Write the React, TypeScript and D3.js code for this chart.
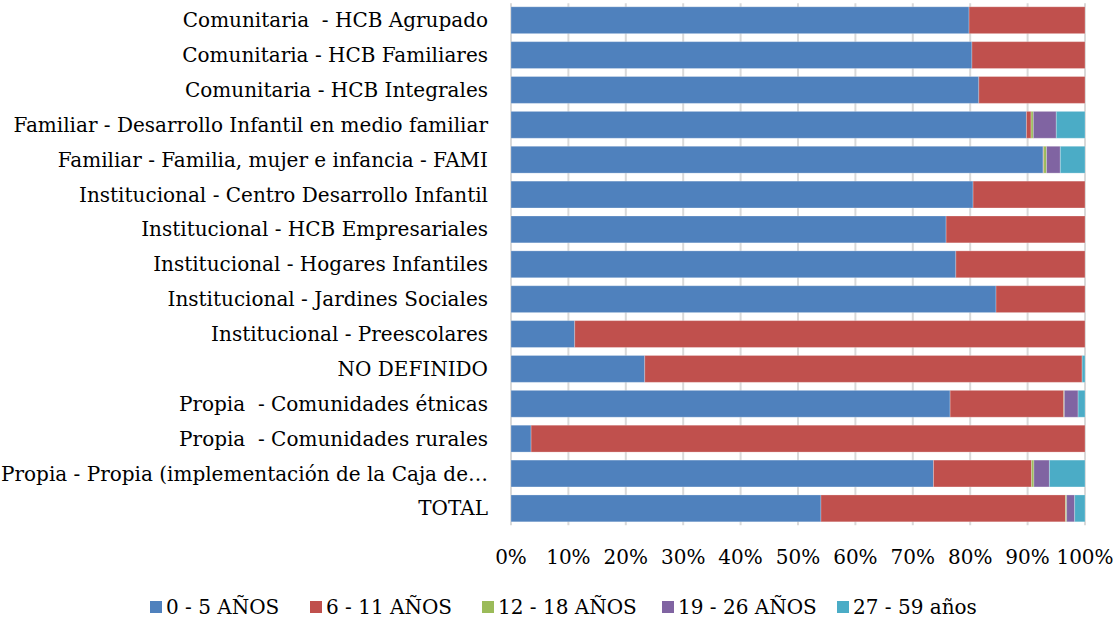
import React, { useEffect, useRef } from 'react';
import * as d3 from 'd3';

const categories = [
  'Comunitaria  - HCB Agrupado',
  'Comunitaria - HCB Familiares',
  'Comunitaria - HCB Integrales',
  'Familiar - Desarrollo Infantil en medio familiar',
  'Familiar - Familia, mujer e infancia - FAMI',
  'Institucional - Centro Desarrollo Infantil',
  'Institucional - HCB Empresariales',
  'Institucional - Hogares Infantiles',
  'Institucional - Jardines Sociales',
  'Institucional - Preescolares',
  'NO DEFINIDO',
  'Propia  - Comunidades étnicas',
  'Propia  - Comunidades rurales',
  'Propia - Propia (implementación de la Caja de…',
  'TOTAL',
];

const seriesNames = ['0 - 5 AÑOS', '6 - 11 AÑOS', '12 - 18 AÑOS', '19 - 26 AÑOS', '27 - 59 años'];
const colors = ['#4F81BD', '#C0504D', '#9BBB59', '#8064A2', '#4BACC6'];

const age0to5 = [79.8, 80.3, 81.5, 89.8, 92.7, 80.5, 75.8, 77.5, 84.5, 11.1, 23.3, 76.5, 3.5, 73.6, 54.0];
const age6to11 = [20.2, 19.7, 18.5, 0.8, 0.1, 19.5, 24.2, 22.5, 15.5, 88.9, 76.2, 19.8, 96.5, 17.1, 42.6];
const age12to18 = [0, 0, 0, 0.4, 0.5, 0, 0, 0, 0, 0, 0, 0.1, 0, 0.4, 0.2];
const age19to26 = [0, 0, 0, 4.0, 2.4, 0, 0, 0, 0, 0, 0, 2.4, 0, 2.7, 1.4];
const age27to59 = [0, 0, 0, 5.0, 4.3, 0, 0, 0, 0, 0, 0.5, 1.2, 0, 6.2, 1.8];

const tickValues = [0, 0.1, 0.2, 0.3, 0.4, 0.5, 0.6, 0.7, 0.8, 0.9, 1];

const FONT = '"DejaVu Serif", serif';

export default function App() {
  const ref = useRef<SVGSVGElement>(null);

  useEffect(() => {
    const svg = d3.select(ref.current);
    svg.selectAll('*').remove();

    const width = 1119;
    const height = 622;
    const left = 511;
    const right = 1085;
    const top = 3.3;
    const bottom = 525.3;

    const rows = categories.map((c, i) => {
      const vals = [age0to5[i], age6to11[i], age12to18[i], age19to26[i], age27to59[i]];
      const sum = d3.sum(vals);
      const row: any = { cat: c };
      seriesNames.forEach((s, j) => (row[s] = vals[j] / sum));
      return row;
    });

    const x = d3.scaleLinear().domain([0, 1]).range([left, right]);
    const y = d3.scaleBand().domain(categories).range([top, bottom]).paddingInner(0.23).paddingOuter(0.1);

    svg.attr('width', width).attr('height', height);

    // gridlines
    svg
      .append('g')
      .selectAll('line')
      .data(tickValues)
      .enter()
      .append('line')
      .attr('x1', (d) => x(d))
      .attr('x2', (d) => x(d))
      .attr('y1', top)
      .attr('y2', bottom)
      .attr('stroke', '#D9D9D9')
      .attr('stroke-width', 2);

    const stack = d3.stack().keys(seriesNames)(rows);

    svg
      .append('g')
      .selectAll('g')
      .data(stack)
      .enter()
      .append('g')
      .attr('fill', (_, i) => colors[i])
      .selectAll('rect')
      .data((d) => d)
      .enter()
      .append('rect')
      .attr('x', (d) => x(d[0]))
      .attr('width', (d) => Math.max(0, x(d[1]) - x(d[0])))
      .attr('y', (d: any) => y(d.data.cat)!)
      .attr('height', y.bandwidth())
      .attr('stroke', '#ffffff')
      .attr('stroke-opacity', 0.25)
      .attr('stroke-width', 1);

    // category labels
    svg
      .append('g')
      .selectAll('text')
      .data(categories)
      .enter()
      .append('text')
      .attr('x', 488)
      .attr('y', (d) => y(d)! + y.bandwidth() / 2)
      .attr('dy', '0.35em')
      .attr('text-anchor', 'end')
      .style('font-family', FONT)
      .style('font-size', '20px')
      .style('white-space', 'pre')
      .attr('fill', '#000')
      .text((d) => d);

    // tick labels
    svg
      .append('g')
      .selectAll('text')
      .data(tickValues)
      .enter()
      .append('text')
      .attr('x', (d) => x(d))
      .attr('y', 557)
      .attr('dy', '0.35em')
      .attr('text-anchor', 'middle')
      .style('font-family', FONT)
      .style('font-size', '20px')
      .text((d) => d3.format('.0%')(d));

    // legend
    const legendX = [150, 310, 482, 662, 837];
    const lg = svg
      .append('g')
      .selectAll('g')
      .data(seriesNames)
      .enter()
      .append('g')
      .attr('transform', (_, i) => `translate(${legendX[i]}, 607)`);
    lg.append('rect')
      .attr('x', 0)
      .attr('y', -6)
      .attr('width', 12)
      .attr('height', 12)
      .attr('fill', (_, i) => colors[i]);
    lg.append('text')
      .attr('x', 16)
      .attr('y', 0)
      .attr('dy', '0.35em')
      .style('font-family', FONT)
      .style('font-size', '20px')
      .text((d) => d);
  }, []);

  return (
    <div style={{ position: 'absolute', left: 0, top: 0 }}>
      <svg ref={ref} />
    </div>
  );
}
